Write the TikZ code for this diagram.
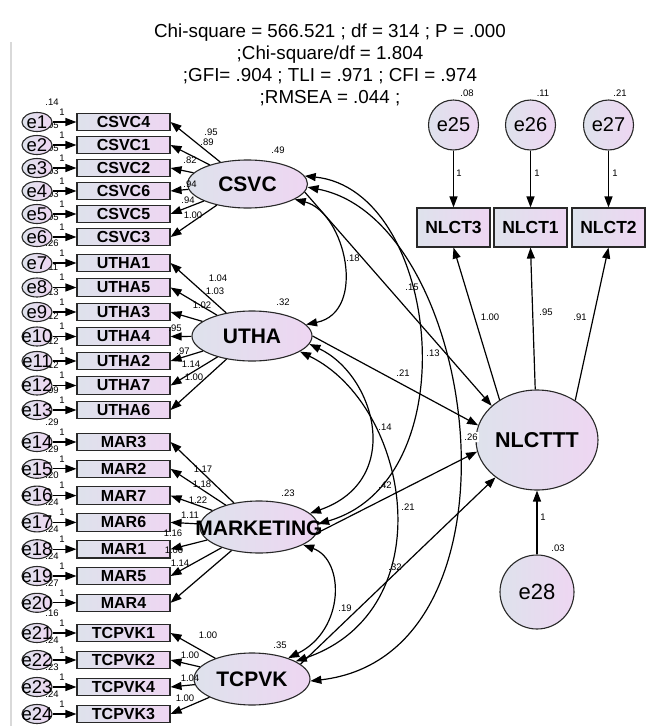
\documentclass[tikz,border=0pt]{standalone}
\usepackage{fontspec}
\setmainfont{Liberation Sans}
\usetikzlibrary{arrows.meta,shapes.geometric}
\definecolor{fillL}{RGB}{222,226,236}
\definecolor{fillR}{RGB}{238,214,242}
\definecolor{edgec}{RGB}{40,40,40}
\begin{document}
\begin{tikzpicture}[x=1pt,y=-1pt,
 >={Triangle[length=11pt,width=8pt]},
 shd/.style={left color=fillL,right color=fillR,draw=edgec,line width=1.1pt},
 eel/.style={shd,ellipse,minimum width=30pt,minimum height=19pt,inner sep=0pt},
 etxt/.style={inner sep=0pt,font=\fontsize{18.5}{18.5}\selectfont},
 ecirc/.style={shd,circle,minimum size=50pt,inner sep=0pt,font=\fontsize{20}{20}\selectfont},
 ind/.style={shd,rectangle,minimum width=93pt,minimum height=17.5pt,inner sep=0pt,font=\bfseries\fontsize{16}{16}\selectfont},
 nind/.style={shd,rectangle,minimum width=73pt,minimum height=39pt,inner sep=0pt,font=\bfseries\fontsize{17.5}{17.5}\selectfont},
 lat/.style={shd,ellipse,inner sep=0pt,font=\bfseries\fontsize{21}{21}\selectfont},
 arr/.style={->,line width=1.2pt},
 carr/.style={<->,line width=1.2pt},
 sm/.style={font=\fontsize{9.5}{9.5}\selectfont,inner sep=0pt},
 stat/.style={font=\fontsize{18.8}{18.8}\selectfont,inner sep=0pt,anchor=base},
]
\useasboundingbox (0,0) rectangle (646,726);
\draw[gray!30,line width=1.2pt] (11,42) -- (11,726);

% fit statistics
\node[stat] (st1) at (330,37) {Chi-square = 566.521 ; df = 314 ; P = .000};
\node[stat] (st2) at (330,59.5) {;Chi-square/df = 1.804};
\node[stat] (st3) at (330,81.5) {;GFI= .904 ; TLI = .971 ; CFI = .974};
\node[stat] (st4) at (330,103.5) {;RMSEA = .044 ;};

% error variance labels (drawn first, partly covered)
\foreach \i/\y/\v in {1/122/.14,2/145/.05,3/168/.05,4/191/.03,5/214/.03,6/237/.05,
 7/263/.26,8/287.5/.11,9/312/.13,10/336.5/.12,11/361/.12,12/385.5/.12,13/410/.09,
 14/442/.29,15/468.8/.29,16/495.6/.20,17/522.4/.24,18/549.2/.24,19/576/.24,20/602.8/.27,
 21/633/.16,22/660/.24,23/687/.23,24/714/.24}
 {\node[sm] (ev\i) at (52,\y-20) {\v};}

% latent variables
\node[lat,minimum width=120pt,minimum height=48pt] (CSVC) at (247.5,184) {CSVC};
\node[lat,minimum width=120pt,minimum height=50pt] (UTHA) at (252,336) {UTHA};
\node[lat,minimum width=118pt,minimum height=52pt] (MAR) at (259,527) {};
\node[inner sep=0pt,font=\bfseries\fontsize{21}{21}\selectfont] (MARt) at (259,528) {MARKETING};
\node[lat,minimum width=116pt,minimum height=52pt] (TCPVK) at (252,679) {TCPVK};
\node[lat,minimum width=122pt,minimum height=100pt,font=\bfseries\fontsize{21.5}{21.5}\selectfont] (NLCTTT) at (537,440) {NLCTTT};

% indicators with errors
\foreach \i/\y/\lab/\f in {1/122/CSVC4/CSVC,2/145/CSVC1/CSVC,3/168/CSVC2/CSVC,4/191/CSVC6/CSVC,5/214/CSVC5/CSVC,6/237/CSVC3/CSVC,
 7/263/UTHA1/UTHA,8/287.5/UTHA5/UTHA,9/312/UTHA3/UTHA,10/336.5/UTHA4/UTHA,11/361/UTHA2/UTHA,12/385.5/UTHA7/UTHA,13/410/UTHA6/UTHA,
 14/442/MAR3/MAR,15/468.8/MAR2/MAR,16/495.6/MAR7/MAR,17/522.4/MAR6/MAR,18/549.2/MAR1/MAR,19/576/MAR5/MAR,20/602.8/MAR4/MAR,
 21/633/TCPVK1/TCPVK,22/660/TCPVK2/TCPVK,23/687/TCPVK4/TCPVK,24/714/TCPVK3/TCPVK}
{
 \node[eel] (e\i) at (37,\y) {};
 \node[etxt] (et\i) at (37,\y) {e\i};
 \node[ind] (b\lab) at (123.5,\y) {\lab};
 \draw[arr] (e\i) -- (b\lab);
 \node[sm] (one\i) at (62,\y-10) {1};
 \draw[arr] (\f) -- (b\lab.east);
}

% loadings
\foreach \n/\x/\y/\t in {l1/211/132/.95,l2/207/142/.89,l3/190/160/.82,l4/190/184/.94,l5/188/200/.94,l6/193/215/1.00,
 l7/218/278/1.04,l8/215/291/1.03,l9/202/305/1.02,l10/175/328/.95,l11/183/351/.97,l12/191/364/1.14,l13/194/377/1.00,
 l14/203/469/1.17,l15/202/484/1.18,l16/198/500/1.22,l17/190/515/1.11,l18/173/533/1.16,l19/174/550/1.00,l20/180/563/1.14,
 l21/208/635/1.00,l22/190/655/1.00,l23/190/678/1.04,l24/185/698/1.00}
 {\node[sm] (\n) at (\x,\y) {\t};}

% variances of latents
\node[sm] (vC) at (278,150) {.49};
\node[sm] (vU) at (283,302) {.32};
\node[sm] (vM) at (288,493) {.23};
\node[sm] (vT) at (280,645) {.35};

% NLCT block
\node[nind] (n3) at (453.5,227.5) {NLCT3};
\node[nind] (n1) at (530.5,227.5) {NLCT1};
\node[nind] (n2) at (608.5,227.5) {NLCT2};
\node[ecirc] (e25) at (453.5,125) {e25};
\node[ecirc] (e26) at (530.5,125) {e26};
\node[ecirc] (e27) at (608.5,125) {e27};
\node[ecirc,minimum size=74pt,font=\fontsize{22}{22}\selectfont] (e28) at (537,592) {e28};
\draw[arr] (e25) -- (n3);
\draw[arr] (e26) -- (n1);
\draw[arr] (e27) -- (n2);
\draw[arr] (e28) -- (NLCTTT);
\node[sm] (v25) at (467,93) {.08};
\node[sm] (v26) at (543,93) {.11};
\node[sm] (v27) at (620,93) {.21};
\node[sm] (o25) at (459,173) {1};
\node[sm] (o26) at (537,173) {1};
\node[sm] (o27) at (615,173) {1};
\node[sm] (o28) at (543,517) {1};
\node[sm] (v28) at (558,548) {.03};
\draw[arr] (NLCTTT.133) -- (n3.south);
\draw[arr] (NLCTTT.92) -- (n1.south);
\draw[arr] (NLCTTT.46) -- (n2.south);
\node[sm] (p1) at (490,317) {1.00};
\node[sm] (p2) at (546,312) {.95};
\node[sm] (p3) at (580,317) {.91};

% structural paths
\draw[arr] (CSVC.-8) -- (NLCTTT.143);
\draw[arr] (UTHA.0) -- (NLCTTT.166);
\draw[arr] (MAR.-6) -- (NLCTTT.191);
\draw[arr] (TCPVK.17) -- (NLCTTT.222);

% covariances
\draw[carr] (CSVC.-18) .. controls (345,212) and (368,312) .. (UTHA.12);
\draw[carr] (CSVC.8) .. controls (440,190) and (470,480) .. (MAR.3);
\draw[carr] (CSVC.-3) .. controls (480,220) and (535,655) .. (TCPVK.-2);
\draw[carr] (UTHA.-8) .. controls (375,375) and (405,480) .. (MAR.15);
\draw[carr] (UTHA.-18) .. controls (410,405) and (445,610) .. (TCPVK.22);
\draw[carr] (MAR.-22) .. controls (345,560) and (345,630) .. (TCPVK.30);

% path / covariance labels
\node[sm] (k18) at (353,258) {.18};
\node[sm] (k15) at (412,287) {.15};
\node[sm] (k13) at (433,353) {.13};
\node[sm] (k21a) at (403,373) {.21};
\node[sm] (k14) at (385,427) {.14};
\node[sm] (k42) at (385,485) {.42};
\node[sm,fill=white,inner sep=1.5pt] (k26) at (471,437) {.26};
\node[sm] (k21b) at (408,507) {.21};
\node[sm] (k32) at (395,567) {.32};
\node[sm] (k19) at (345,608) {.19};
\end{tikzpicture}
\end{document}
